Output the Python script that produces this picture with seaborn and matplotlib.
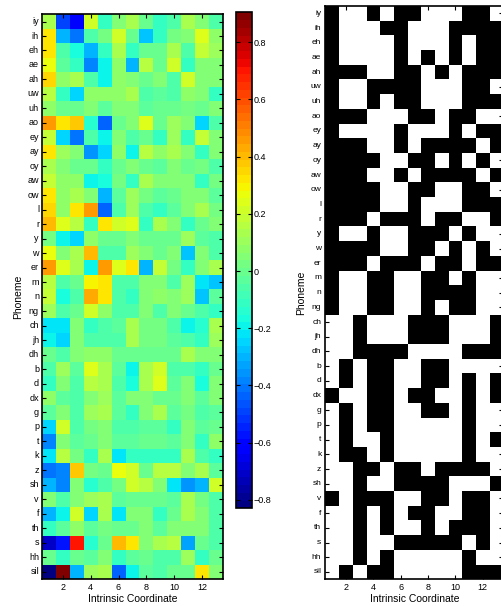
import numpy as np
import pandas as pd
import matplotlib
matplotlib.use("Agg")
import matplotlib.pyplot as plt
import seaborn as sns
from matplotlib.colors import ListedColormap

# rows of the weight matrix (phoneme x intrinsic coordinate)
phonemes = ["iy", "ih", "eh", "ae", "ah", "uw", "uh", "ao", "ey", "ay", "oy", "aw", "ow",
            "l", "r", "y", "w", "er", "m", "n", "ng", "ch", "jh", "dh", "b", "d", "dx",
            "g", "p", "t", "k", "z", "sh", "v", "f", "th", "s", "hh", "sil"]
coords = list(range(1, 14))
xtick_vals = [2, 4, 6, 8, 10, 12]
cbar_ticks = [-0.8, -0.6, -0.4, -0.2, 0, 0.2, 0.4, 0.6, 0.8]
cbar_labels = ["\u22120.8", "\u22120.6", "\u22120.4", "\u22120.2", "0", "0.2", "0.4", "0.6", "0.8"]

weights = [
    [0.12, -0.48, -0.62, 0.22, -0.12, 0.04, 0.12, -0.01, -0.1, -0.05, 0.12, 0.04, -0.05],
    [0.32, -0.29, -0.42, -0.05, 0.02, 0.21, -0.01, -0.27, -0.1, 0.02, 0.06, 0.23, 0.08],
    [0.32, -0.05, -0.16, -0.29, -0.12, 0.12, -0.12, -0.01, -0.01, 0.14, -0.05, 0.19, 0.1],
    [0.27, -0.03, -0.12, -0.38, -0.18, 0.08, -0.29, 0.17, -0.01, 0.21, -0.12, 0.04, 0.04],
    [0.36, 0.08, 0.12, -0.05, -0.18, 0.08, 0.04, -0.01, 0.04, -0.07, 0.21, 0.04, 0.06],
    [0.17, -0.12, -0.24, 0.08, 0.08, 0.08, 0.12, -0.05, -0.03, -0.07, 0.08, 0.04, -0.1],
    [0.08, -0.01, -0.01, 0.04, -0.03, 0.04, 0.04, -0.03, -0.01, -0.01, 0.02, 0.01, 0.04],
    [0.47, 0.32, 0.38, -0.14, -0.44, -0.01, 0.06, 0.25, -0.01, 0.1, 0.06, -0.24, -0.07],
    [0.19, -0.24, -0.4, -0.07, -0.18, 0.06, -0.05, -0.01, -0.1, 0.1, -0.1, 0.19, 0.04],
    [0.32, 0.1, 0.06, -0.36, -0.24, 0.08, -0.18, 0.17, 0.08, 0.12, 0.04, -0.12, 0.06],
    [0.14, 0.04, 0.01, 0.01, -0.1, -0.01, 0.06, 0.01, -0.03, 0.06, -0.01, 0.02, -0.05],
    [0.19, 0.08, 0.08, -0.18, -0.16, 0.02, -0.1, 0.14, 0.06, 0.06, 0.04, -0.1, 0.02],
    [0.32, 0.08, 0.12, 0.06, -0.29, -0.03, 0.1, 0.02, -0.03, -0.01, 0.04, 0.04, -0.03],
    [0.35, 0.08, 0.32, 0.45, -0.44, -0.07, 0.1, -0.07, -0.12, -0.03, 0.04, 0.14, 0.02],
    [0.4, 0.23, 0.17, -0.12, 0.32, 0.21, 0.25, -0.12, 0.12, 0.04, -0.12, -0.01, 0.04],
    [0.02, -0.18, -0.24, 0.08, -0.01, -0.01, 0.04, 0.01, 0.01, -0.01, 0.1, -0.03, -0.07],
    [0.27, 0.04, 0.12, 0.39, -0.05, -0.05, 0.1, 0.04, -0.01, 0.06, -0.27, 0.04, -0.05],
    [0.45, 0.23, 0.12, -0.18, 0.45, 0.25, 0.32, -0.29, 0.19, 0.02, -0.1, 0.04, 0.14],
    [0.17, -0.05, -0.01, 0.3, 0.32, -0.05, -0.05, 0.04, 0.04, -0.07, 0.1, -0.22, -0.27],
    [0.19, -0.16, -0.05, 0.43, 0.32, -0.07, -0.12, 0.06, 0.08, 0.04, 0.1, -0.27, -0.03],
    [0.1, -0.05, -0.01, 0.21, 0.08, -0.05, -0.05, 0.06, -0.05, 0.06, 0.01, -0.07, -0.12],
    [-0.22, -0.22, 0.06, -0.12, -0.05, -0.03, 0.12, 0.02, 0.02, -0.07, -0.18, -0.14, 0.12],
    [-0.2, -0.24, 0.04, -0.05, -0.05, -0.05, 0.14, 0.02, 0.02, -0.03, -0.05, -0.1, 0.1],
    [-0.01, -0.05, 0.04, 0.08, 0.08, 0.01, -0.01, -0.01, -0.01, -0.01, 0.14, 0.06, 0.04],
    [-0.05, 0.1, -0.03, 0.23, 0.14, -0.03, -0.18, 0.14, 0.21, -0.07, -0.05, -0.1, -0.01],
    [-0.1, 0.04, -0.07, 0.17, 0.14, -0.05, -0.16, 0.12, 0.23, -0.03, 0.06, -0.16, 0.06],
    [0.08, -0.03, -0.05, 0.04, 0.1, -0.03, 0.06, 0.04, -0.01, -0.01, 0.06, -0.03, 0.06],
    [-0.03, 0.06, -0.05, 0.1, 0.14, -0.03, -0.12, 0.06, 0.14, -0.03, 0.02, -0.07, -0.03],
    [-0.24, 0.21, -0.05, 0.02, 0.06, -0.07, -0.07, -0.03, -0.03, -0.12, 0.04, -0.03, -0.01],
    [-0.38, 0.06, -0.03, -0.01, 0.04, -0.03, -0.03, -0.01, -0.01, -0.03, 0.04, -0.1, 0.08],
    [-0.22, 0.17, 0.02, -0.1, 0.12, -0.22, -0.12, -0.12, -0.12, -0.12, 0.12, -0.07, -0.1],
    [-0.42, -0.38, 0.38, 0.02, -0.01, 0.27, 0.21, -0.01, 0.17, 0.17, 0.04, 0.12, -0.03],
    [-0.31, -0.38, 0.06, -0.14, -0.07, 0.02, 0.21, 0.17, 0.06, -0.22, -0.36, -0.29, 0.21],
    [0.04, -0.05, 0.06, 0.1, 0.14, -0.03, -0.01, 0.01, 0.01, -0.03, 0.14, 0.02, -0.05],
    [-0.29, -0.18, 0.21, -0.24, 0.14, -0.22, 0.04, 0.04, -0.1, -0.01, 0.14, 0.04, -0.05],
    [-0.12, -0.03, 0.08, -0.03, 0.02, -0.01, -0.01, 0.04, -0.03, 0.06, 0.06, 0.04, -0.05],
    [-0.72, -0.57, 0.69, -0.14, -0.01, 0.4, 0.32, 0.06, 0.12, 0.17, -0.33, 0.01, -0.05],
    [-0.01, -0.1, 0.01, -0.03, 0.04, -0.1, -0.03, -0.01, -0.07, -0.05, 0.1, -0.1, -0.01],
    [-0.82, 0.9, -0.31, 0.1, 0.14, -0.44, -0.18, -0.03, -0.05, -0.01, 0.01, 0.32, 0.06],
]

plt.rcParams['font.family'] = ['Liberation Sans', 'DejaVu Sans']

df = pd.DataFrame(weights, index=phonemes, columns=coords)
# right panel: which weights are positive
positive = (df > 0).astype(int)

fig = plt.figure(figsize=(5.02, 6.06), dpi=100)
W, H = 502.0, 606.0
ax1 = fig.add_axes([41.7 / W, 1 - 579 / H, 181.6 / W, 564.7 / H])
cax = fig.add_axes([235.7 / W, 1 - 508.3 / H, 16.6 / W, 496 / H])
ax2 = fig.add_axes([325.5 / W, 1 - 579.3 / H, 177.7 / W, 573.3 / H])

sns.heatmap(df, ax=ax1, cmap=plt.get_cmap('jet', 64), vmin=-0.83, vmax=0.905, cbar_ax=cax)
sns.heatmap(positive, ax=ax2, cmap=ListedColormap(['white', 'black']), vmin=0, vmax=1, cbar=False)

for ax, ysize, ypad in [(ax1, 6.5, 2), (ax2, 6, 3)]:
    ax.set_xticks([c - 0.5 for c in xtick_vals])
    ax.set_xticklabels([str(c) for c in xtick_vals], rotation=0, fontsize=6.5)
    ax.set_yticks(np.arange(len(phonemes)) + 0.5)
    ax.set_yticklabels(phonemes, rotation=0, fontsize=ysize)
    ax.tick_params(direction='in', top=True, right=True, length=3, width=0.8, color='black')
    ax.tick_params(axis='y', pad=ypad)
    ax.tick_params(axis='x', pad=3)
    for s in ax.spines.values():
        s.set_visible(True)
        s.set_linewidth(1.2)
        s.set_color('black')
    ax.set_xlabel('Intrinsic Coordinate', fontsize=7.5, labelpad=1)
    ax.set_ylabel('Phoneme', fontsize=7.5, labelpad=3)

cbar = ax1.collections[0].colorbar
cbar.set_ticks(cbar_ticks)
cbar.set_ticklabels(cbar_labels)
cbar.outline.set_linewidth(1.2)
cbar.outline.set_edgecolor('black')
cax.tick_params(direction='in', left=True, right=True, length=3, width=0.8, labelsize=6.5, pad=1)

fig.savefig('out.png', dpi=100)
